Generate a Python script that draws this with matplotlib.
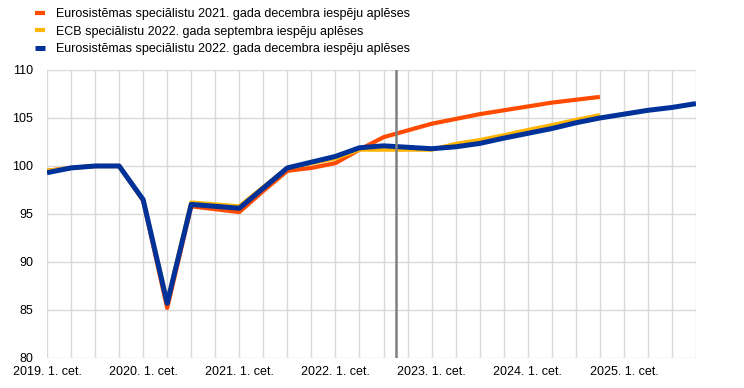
import matplotlib
matplotlib.use('Agg')
import matplotlib.pyplot as plt

plt.rcParams['font.family'] = ['Liberation Sans', 'DejaVu Sans']

# quarters 2019 Q1 .. 2025 Q4
years = [2019, 2020, 2021, 2022, 2023, 2024, 2025]
tick_labels = ["%d. 1. cet." % y for y in years]

dec2021 = [99.5, 99.8, 100.0, 100.0, 96.4, 85.2, 95.8, 95.5, 95.2, 97.4,
           99.5, 99.8, 100.3, 101.7, 103.0, 103.7, 104.4, 104.9, 105.4,
           105.8, 106.2, 106.6, 106.9, 107.2]
sep2022 = [99.5, 99.8, 100.0, 100.0, 96.5, 85.8, 96.2, 96.0, 95.8, 97.8,
           99.8, 100.3, 100.8, 101.7, 101.7, 101.7, 101.7, 102.3, 102.7,
           103.2, 103.75, 104.25, 104.8, 105.3]
dec2022 = [99.3, 99.8, 100.0, 100.0, 96.5, 85.7, 96.0, 95.8, 95.6, 97.7,
           99.8, 100.4, 101.0, 101.9, 102.1, 101.95, 101.8, 102.0, 102.35,
           102.9, 103.4, 103.9, 104.5, 105.0, 105.4, 105.8, 106.1, 106.5]

labels = ["Eurosistēmas speciālistu 2021. gada decembra iespēju aplēses",
          "ECB speciālistu 2022. gada septembra iespēju aplēses",
          "Eurosistēmas speciālistu 2022. gada decembra iespēju aplēses"]
colors = ["#ff4b00", "#ffb400", "#003299"]

fig = plt.figure(figsize=(7.44, 3.88), dpi=100)
ax = fig.add_axes([47 / 744, 30 / 388, 649 / 744, 288 / 388])

series = [dec2021, sep2022, dec2022]
widths = [3.0, 3.0, 3.6]
for vals, lab, col, lw in zip(series, labels, colors, widths):
    ax.plot(range(len(vals)), vals, color=col, lw=lw, label=lab,
            solid_capstyle='butt', zorder=3)

ax.axvline(14.5, color="#7f7f7f", lw=1.8, zorder=4)

ax.set_xlim(0, 27)
ax.set_ylim(80, 110)
ax.set_yticks(range(80, 111, 5))
ax.set_xticks(range(0, 28), minor=True)
ax.set_xticks(range(0, 28, 4))
ax.set_xticklabels(tick_labels)
ax.grid(True, which='both', color="#d9d9d9", lw=1, zorder=0)
ax.tick_params(which='both', length=0, labelsize=9, colors="#000000")
ax.tick_params(axis='x', pad=6)
ax.tick_params(axis='y', pad=10)
for s in ax.spines.values():
    s.set_visible(False)

fig.legend(loc='upper left', bbox_to_anchor=(0.035, 1.002), frameon=False,
           fontsize=9, handlelength=0.8, handletextpad=0.9, labelspacing=0.45,
           borderaxespad=0.3)

fig.savefig("out.png", dpi=100)
